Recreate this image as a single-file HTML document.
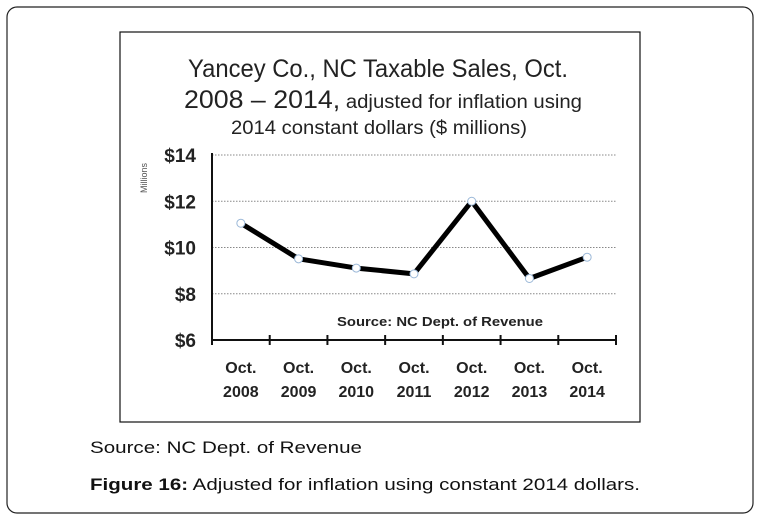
<!DOCTYPE html>
<html><head><meta charset="utf-8"><style>
html,body{margin:0;padding:0;background:#fff;}
svg{display:block;font-family:"Liberation Sans",Arial,sans-serif;}
</style></head><body>
<svg id="chart" width="760" height="520" viewBox="0 0 760 520" xmlns="http://www.w3.org/2000/svg">
<rect x="7" y="7" width="746" height="506" rx="10" fill="#fff" stroke="#222" stroke-width="1.2"/>
<rect x="120" y="32" width="520" height="390" fill="#fff" stroke="#111" stroke-width="1.2"/>
<g fill="#222" text-anchor="middle">
<text x="378" y="77" font-size="25" textLength="380" lengthAdjust="spacingAndGlyphs">Yancey Co., NC Taxable Sales, Oct.</text>
<text x="383" y="108" font-size="25" textLength="398" lengthAdjust="spacingAndGlyphs">2008 – 2014,<tspan font-size="19"> adjusted for inflation using</tspan></text>
<text x="379" y="134" font-size="19" textLength="296" lengthAdjust="spacingAndGlyphs">2014 constant dollars ($ millions)</text>
</g>
<text transform="translate(147,178) rotate(-90)" font-size="9" fill="#555" text-anchor="middle">Millions</text>
<g id="grid"></g>
<g id="axes"></g>
<g id="series"></g>
<text x="440" y="326" font-size="13" font-weight="bold" fill="#222" text-anchor="middle" textLength="206" lengthAdjust="spacingAndGlyphs">Source: NC Dept. of Revenue</text>
<text x="90" y="453" font-size="17" fill="#111" textLength="272" lengthAdjust="spacingAndGlyphs">Source: NC Dept. of Revenue</text>
<text x="90" y="490" font-size="17" fill="#111" textLength="550" lengthAdjust="spacingAndGlyphs"><tspan font-weight="bold">Figure 16:</tspan> Adjusted for inflation using constant 2014 dollars.</text>
</svg>
<script>
const categories = ["2008","2009","2010","2011","2012","2013","2014"];
const values = [11.05, 9.51, 9.11, 8.86, 12.0, 8.66, 9.58];
const yTicks = [6, 8, 10, 12, 14];
const yTickLabels = ["$6","$8","$10","$12","$14"];

const NS = "http://www.w3.org/2000/svg";
const x0 = 212, x1 = 616, yMin = 6, yMax = 14, yB = 340, yT = 155;
const bw = (x1 - x0) / categories.length;
function xPos(i){ return x0 + bw * (i + 0.5); }
function yPos(v){ return yB - (v - yMin) / (yMax - yMin) * (yB - yT); }
function mk(tag, attrs, parent){ const e = document.createElementNS(NS, tag); for (const k in attrs) e.setAttribute(k, attrs[k]); parent.appendChild(e); return e; }

const grid = document.getElementById('grid');
const axes = document.getElementById('axes');
const series = document.getElementById('series');

yTicks.forEach((t, i) => {
  if (t !== yMin) {
    const g = mk('line', {x1: x0, x2: 616, y1: yPos(t), y2: yPos(t), stroke: '#888', 'stroke-width': 1, 'stroke-dasharray': '1.5,1.5'}, grid);
    
    
  }
  const lb = mk('text', {x: 196, y: yPos(t) + 7, 'font-size': 19, 'font-weight': 'bold', fill: '#222', 'text-anchor': 'end'}, axes);
  lb.textContent = yTickLabels[i];
  
  
});

const ya = mk('line', {x1: x0, x2: x0, y1: yT - 2, y2: yB + 1, stroke: '#111', 'stroke-width': 2}, axes);


const xa = mk('line', {x1: x0 - 1, x2: x1 + 1, y1: yB, y2: yB, stroke: '#111', 'stroke-width': 2}, axes);



for (let i = 0; i <= categories.length; i++) {
  const tk = mk('line', {x1: x0 + bw * i, x2: x0 + bw * i, y1: yB - 5, y2: yB + 5, stroke: '#111', 'stroke-width': 2}, axes);
  
  
}
categories.forEach((c, i) => {
  const t1 = mk('text', {x: xPos(i), y: 373, 'font-size': 16, 'font-weight': 'bold', fill: '#222', 'text-anchor': 'middle'}, axes);
  t1.textContent = 'Oct.';
  
  
  const t2 = mk('text', {x: xPos(i), y: 397, 'font-size': 16, 'font-weight': 'bold', fill: '#222', 'text-anchor': 'middle'}, axes);
  t2.textContent = c;
  
  
});

const pts = values.map((v, i) => xPos(i) + ',' + yPos(v)).join(' ');
const line = mk('polyline', {points: pts, fill: 'none', stroke: '#000', 'stroke-width': 5, 'stroke-linejoin': 'round'}, series);


values.forEach((v, i) => {
  const p = mk('circle', {cx: xPos(i), cy: yPos(v), r: 4, fill: '#fff', stroke: '#9bb8d8', 'stroke-width': 1}, series);
  
  
});
</script>
</body></html>
